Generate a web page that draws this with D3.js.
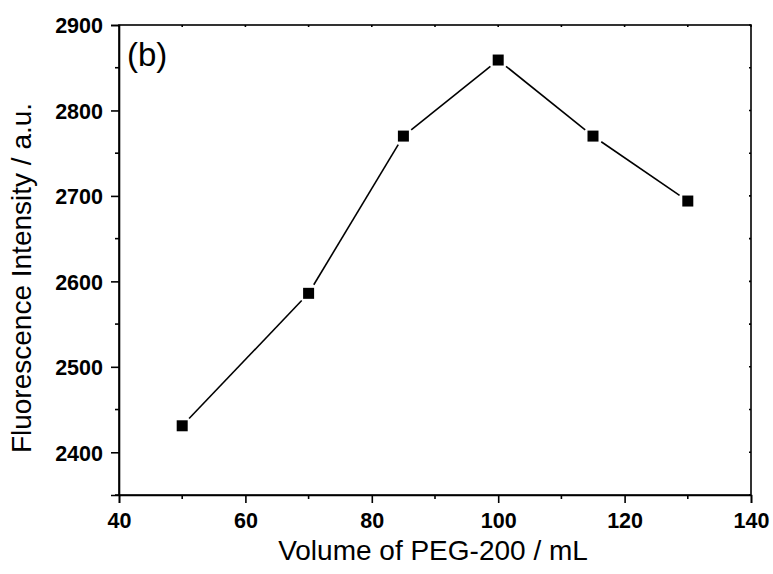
<!DOCTYPE html>
<html>
<head>
<meta charset="utf-8">
<script src="https://cdn.jsdelivr.net/npm/d3@7"></script>
<style>
	body { margin: 0; background: #fff; }
	svg text { font-family: "Liberation Sans", Arial, sans-serif; fill: #000; }
</style>
</head>
<body>
<div id="chart"></div>
<script>
// data
const volumes = [50, 70, 85, 100, 115, 130];
const intensity = [2431, 2586, 2770, 2859, 2770, 2694];
const xTicks = [40, 60, 80, 100, 120, 140];
const yTicks = [2400, 2500, 2600, 2700, 2800, 2900];
const xMinor = [50, 70, 90, 110, 130];
const yMinor = [2350, 2450, 2550, 2650, 2750, 2850];

const W = 773, H = 574;
const M = { L: 119, R: 22, T: 25, B: 79 };
const width = W - M.L - M.R;
const height = H - M.T - M.B;

const svg = d3.select('#chart').append('svg')
	.attr('width', W)
	.attr('height', H);

const g = svg.append('g')
	.attr('transform', 'translate(' + M.L + ',' + M.T + ')');

const x = d3.scaleLinear().domain([40, 140]).range([0, width]);
const y = d3.scaleLinear().domain([2350, 2900]).range([height, 0]);

// frame
g.append('rect')
	.attr('width', width)
	.attr('height', height)
	.attr('fill', 'none')
	.attr('stroke', '#000')
	.attr('stroke-width', 1.6);

// bottom axis
const xAxis = g.append('g').attr('transform', 'translate(0,' + height + ')');
xAxis.call(d3.axisBottom(x).tickValues(xTicks).tickSize(8).tickFormat(d3.format('d')));
xAxis.append('g').selectAll('line').data(xMinor).join('line')
	.attr('x1', d => x(d)).attr('x2', d => x(d))
	.attr('y1', 0).attr('y2', 4);

// left axis
const yAxis = g.append('g');
yAxis.call(d3.axisLeft(y).tickValues(yTicks).tickSize(8).tickFormat(d3.format('d')));
yAxis.append('g').selectAll('line').data(yMinor).join('line')
	.attr('x1', 0).attr('x2', -4)
	.attr('y1', d => y(d)).attr('y2', d => y(d));

// mirror ticks top / right (short, inward)
g.append('g').selectAll('line').data(xTicks.concat(xMinor)).join('line')
	.attr('x1', d => x(d)).attr('x2', d => x(d))
	.attr('y1', 0).attr('y2', 2);
g.append('g').selectAll('line').data(yTicks.concat(yMinor)).join('line')
	.attr('x1', width).attr('x2', width - 2)
	.attr('y1', d => y(d)).attr('y2', d => y(d));

g.selectAll('.domain').attr('stroke-width', 1.6);
g.selectAll('line').attr('stroke', '#000').attr('stroke-width', 1.6);

xAxis.selectAll('.tick text')
	.attr('font-size', 21.5)
	.attr('font-weight', 'bold')
	.attr('dy', null)
	.attr('y', 33);
yAxis.selectAll('.tick text')
	.attr('font-size', 21.5)
	.attr('font-weight', 'bold')
	.attr('x', -16)
	.attr('dy', '0.36em');
g.selectAll('.tick text').style('font-family', '"Liberation Sans", Arial, sans-serif');

// connecting line with gaps around markers
const pts = volumes.map((v, i) => [x(v), y(intensity[i])]);
const GAP = 10;
const segs = d3.pairs(pts).map(([a, b]) => {
	const dx = b[0] - a[0], dy = b[1] - a[1];
	const len = Math.hypot(dx, dy);
	const ux = dx / len, uy = dy / len;
	return [a[0] + ux * GAP, a[1] + uy * GAP, b[0] - ux * GAP, b[1] - uy * GAP];
});
g.append('g').selectAll('line').data(segs).join('line')
	.attr('x1', d => d[0]).attr('y1', d => d[1])
	.attr('x2', d => d[2]).attr('y2', d => d[3])
	.attr('stroke', '#000')
	.attr('stroke-width', 1.6);

// markers
const S = 11;
g.append('g').selectAll('rect').data(pts).join('rect')
	.attr('x', d => d[0] - S / 2)
	.attr('y', d => d[1] - S / 2)
	.attr('width', S)
	.attr('height', S)
	.attr('fill', '#000');

// labels
g.append('text')
	.attr('x', 8)
	.attr('y', 41)
	.attr('font-size', 33)
	.text('(b)');

svg.append('text')
	.attr('x', M.L + width / 2 - 2)
	.attr('y', 560)
	.attr('text-anchor', 'middle')
	.attr('font-size', 28)
	.text('Volume of PEG-200 / mL');

svg.append('text')
	.attr('transform', 'translate(31,' + 278 + ') rotate(-90)')
	.attr('text-anchor', 'middle')
	.attr('font-size', 28)
	.text('Fluorescence Intensity / a.u.');
</script>
</body>
</html>
